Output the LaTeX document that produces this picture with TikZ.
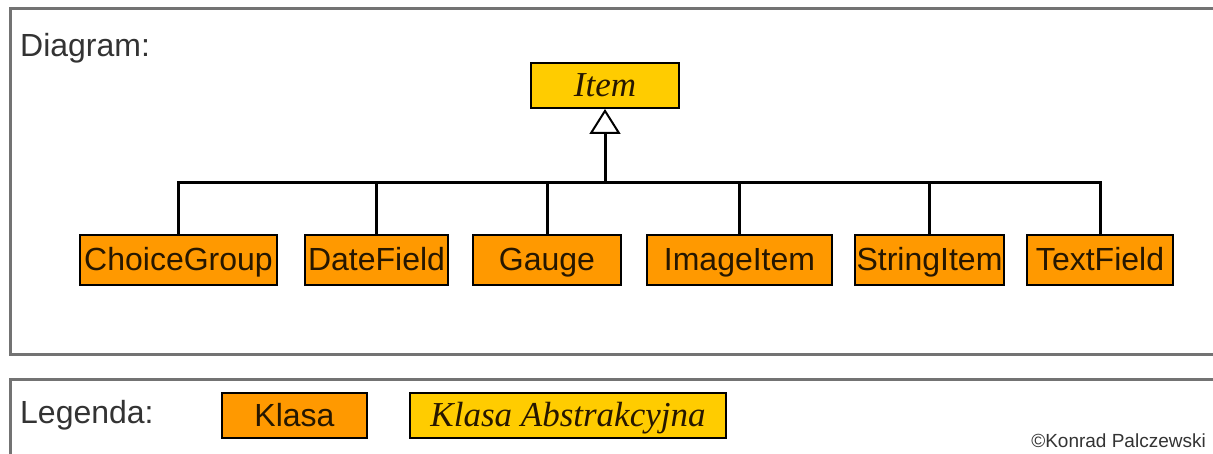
\documentclass[tikz,border=0pt]{standalone}
\usepackage{fontspec}
\setmainfont{Liberation Sans}
\newfontfamily\abstractfont{Liberation Serif}
\usetikzlibrary{arrows.meta}
\definecolor{klasa}{HTML}{FF9900}
\definecolor{abstrakt}{HTML}{FFCC00}
\definecolor{ramka}{HTML}{737373}
\tikzset{
  frame/.style={draw=ramka, line width=3pt},
  classbox/.style={draw=black, line width=2pt, fill=klasa, rectangle,
    minimum height=50pt, inner sep=0pt, text height=22pt, text depth=0pt,
    text=black!85!klasa, font=\fontsize{32}{32}\selectfont},
  abstractbox/.style={draw=black, line width=2pt, fill=abstrakt, rectangle,
    minimum height=45pt, inner sep=0pt, text height=22pt, text depth=0pt,
    text=black!85!klasa, font=\abstractfont\itshape\fontsize{35}{35}\selectfont},
  label/.style={anchor=west, inner sep=0pt, text height=23pt, text depth=0pt,
    text=black!80, font=\fontsize{32}{32}\selectfont}
}
\begin{document}
\begin{tikzpicture}[x=1pt, y=-1pt]
      \useasboundingbox (0,0) rectangle (1213,454);
      \clip (0,0) rectangle (1213,454);
      \fill[white] (0,0) rectangle (1213,454);
      \draw[frame] (10,9) rectangle (1225,354);
      \draw[frame] (10,379) rectangle (1225,480);
      \draw
        (20,45) node[label] (diagram){Diagram:}
        (605,85.5) node[abstractbox, minimum width=148pt] (item){Item}
        (178.5,260) node[classbox, minimum width=197pt] (choicegroup){ChoiceGroup}
        (376.5,260) node[classbox, minimum width=143pt] (datefield){DateField}
        (547,260) node[classbox, minimum width=148pt] (gauge){Gauge}
        (739.5,260) node[classbox, minimum width=185pt] (imageitem){ImageItem}
        (929.5,260) node[classbox, minimum width=149pt] (stringitem){StringItem}
        (1100,260) node[classbox, minimum width=146pt] (textfield){TextField};
      \coordinate (bus) at (605,183);
      \begin{scope}[line width=3pt]
        \draw[-{Triangle[open, length=25pt, width=31pt, line width=2pt, fill=white]}] (bus) to (item.south);
        \draw (bus) -| (choicegroup.north);
        \draw (bus) -| (datefield.north);
        \draw (bus) -| (gauge.north);
        \draw (bus) -| (imageitem.north);
        \draw (bus) -| (stringitem.north);
        \draw (bus) -| (textfield.north);
      \end{scope}
      \draw
        (20,412) node[label] (legenda){Legenda:}
        (294.5,415.5) node[classbox, minimum width=145pt, minimum height=45pt] (klasa){Klasa}
        (568,415.5) node[abstractbox, minimum width=316pt] (abstrakcyjna){Klasa Abstrakcyjna}
        (1206,441) node[anchor=east, inner sep=0pt, text=black!80, font=\fontsize{19}{19}\selectfont] (autor){©Konrad Palczewski};
    \end{tikzpicture}
\end{document}
